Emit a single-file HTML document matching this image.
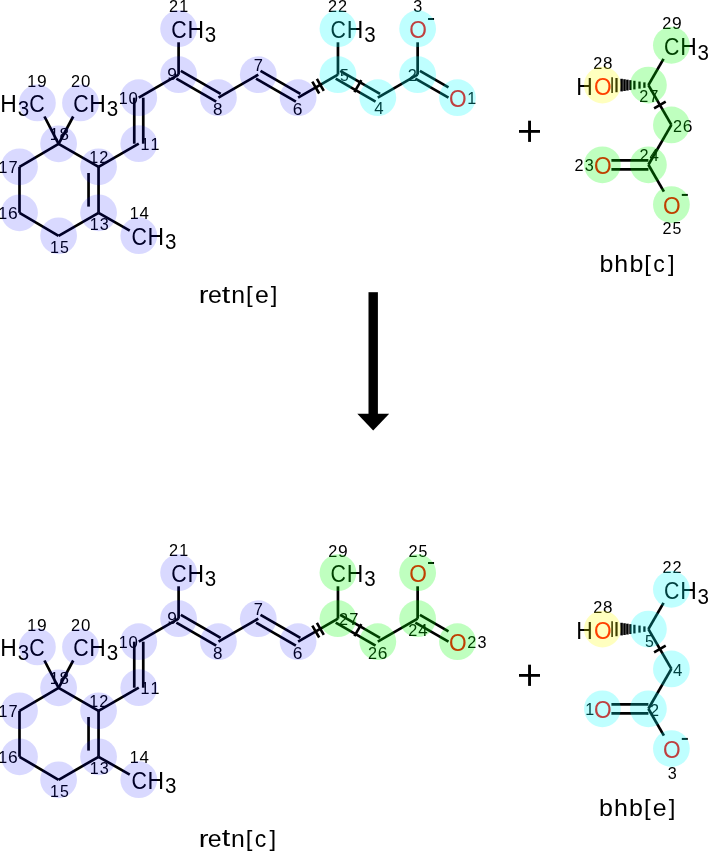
<!DOCTYPE html>
<html><head><meta charset="utf-8"><style>
html,body{margin:0;padding:0;background:#fff;width:709px;height:851px;overflow:hidden}
svg{display:block;will-change:transform}
text{font-family:"Liberation Sans",sans-serif}
</style></head><body>
<svg width="709" height="851" viewBox="0 0 709 851">
<rect width="709" height="851" fill="#fff"/>
<line x1="19.50" y1="166.80" x2="58.60" y2="143.80" stroke="#000" stroke-width="2.7"/>
<line x1="58.60" y1="143.80" x2="98.55" y2="166.80" stroke="#000" stroke-width="2.7"/>
<line x1="98.55" y1="212.80" x2="58.60" y2="235.80" stroke="#000" stroke-width="2.7"/>
<line x1="58.60" y1="235.80" x2="19.50" y2="212.80" stroke="#000" stroke-width="2.7"/>
<line x1="19.50" y1="212.80" x2="19.50" y2="166.80" stroke="#000" stroke-width="2.7"/>
<line x1="58.60" y1="143.80" x2="44.45" y2="116.50" stroke="#000" stroke-width="2.7"/>
<line x1="58.60" y1="143.80" x2="73.22" y2="116.50" stroke="#000" stroke-width="2.7"/>
<line x1="98.55" y1="212.80" x2="129.76" y2="230.57" stroke="#000" stroke-width="2.7"/>
<line x1="98.55" y1="166.80" x2="138.76" y2="143.70" stroke="#000" stroke-width="2.7"/>
<line x1="138.76" y1="97.70" x2="178.60" y2="74.70" stroke="#000" stroke-width="2.7"/>
<line x1="178.60" y1="74.70" x2="178.60" y2="42.30" stroke="#000" stroke-width="2.7"/>
<line x1="218.44" y1="97.70" x2="258.28" y2="74.70" stroke="#000" stroke-width="2.7"/>
<line x1="298.12" y1="97.70" x2="337.96" y2="74.70" stroke="#000" stroke-width="2.7"/>
<line x1="337.96" y1="74.70" x2="337.96" y2="42.30" stroke="#000" stroke-width="2.7"/>
<line x1="377.80" y1="97.70" x2="417.64" y2="74.70" stroke="#000" stroke-width="2.7"/>
<line x1="417.64" y1="74.70" x2="417.64" y2="42.30" stroke="#000" stroke-width="2.7"/>
<line x1="98.55" y1="166.80" x2="98.55" y2="212.80" stroke="#000" stroke-width="2.7"/>
<line x1="88.55" y1="173.00" x2="88.55" y2="206.60" stroke="#000" stroke-width="2.7"/>
<line x1="134.26" y1="143.70" x2="134.26" y2="97.70" stroke="#000" stroke-width="2.7"/>
<line x1="143.26" y1="143.70" x2="143.26" y2="97.70" stroke="#000" stroke-width="2.7"/>
<line x1="180.85" y1="70.80" x2="220.69" y2="93.80" stroke="#000" stroke-width="2.7"/>
<line x1="176.35" y1="78.60" x2="216.19" y2="101.60" stroke="#000" stroke-width="2.7"/>
<line x1="260.53" y1="70.80" x2="300.37" y2="93.80" stroke="#000" stroke-width="2.7"/>
<line x1="256.03" y1="78.60" x2="295.87" y2="101.60" stroke="#000" stroke-width="2.7"/>
<line x1="340.21" y1="70.80" x2="380.05" y2="93.80" stroke="#000" stroke-width="2.7"/>
<line x1="335.71" y1="78.60" x2="375.55" y2="101.60" stroke="#000" stroke-width="2.7"/>
<line x1="419.89" y1="70.80" x2="448.48" y2="87.31" stroke="#000" stroke-width="2.7"/>
<line x1="415.39" y1="78.60" x2="448.48" y2="97.70" stroke="#000" stroke-width="2.7"/>
<line x1="312.30" y1="81.55" x2="319.19" y2="93.50" stroke="#000" stroke-width="2.6"/>
<line x1="316.89" y1="78.90" x2="323.78" y2="90.85" stroke="#000" stroke-width="2.6"/>
<line x1="361.33" y1="80.22" x2="354.43" y2="92.18" stroke="#000" stroke-width="2.6"/>
<text transform="translate(73.16,111.89) scale(0.869,1)" font-size="24.57" fill="#000">C</text>
<text transform="translate(89.33,111.80) scale(0.939,1)" font-size="24.37" fill="#000">H</text>
<text transform="translate(106.71,116.18) scale(0.948,1)" font-size="21.69" fill="#000">3</text>
<text transform="translate(171.26,37.69) scale(0.869,1)" font-size="24.57" fill="#000">C</text>
<text transform="translate(187.43,37.60) scale(0.939,1)" font-size="24.37" fill="#000">H</text>
<text transform="translate(204.81,41.98) scale(0.948,1)" font-size="21.69" fill="#000">3</text>
<text transform="translate(330.62,37.69) scale(0.869,1)" font-size="24.57" fill="#000">C</text>
<text transform="translate(346.79,37.60) scale(0.939,1)" font-size="24.37" fill="#000">H</text>
<text transform="translate(364.17,41.98) scale(0.948,1)" font-size="21.69" fill="#000">3</text>
<text transform="translate(131.42,244.69) scale(0.869,1)" font-size="24.57" fill="#000">C</text>
<text transform="translate(147.59,244.60) scale(0.939,1)" font-size="24.37" fill="#000">H</text>
<text transform="translate(164.97,248.98) scale(0.948,1)" font-size="21.69" fill="#000">3</text>
<text transform="translate(29.16,111.89) scale(0.869,1)" font-size="24.57" fill="#000">C</text>
<text transform="translate(17.71,116.18) scale(0.948,1)" font-size="21.69" fill="#000">3</text>
<text transform="translate(0.33,111.80) scale(0.939,1)" font-size="24.37" fill="#000">H</text>
<text transform="translate(409.20,37.79) scale(0.925,1)" font-size="24.57" fill="#f00">O</text>
<rect x="428.04" y="18.00" width="6" height="2" fill="#000"/>
<text transform="translate(449.04,106.79) scale(0.925,1)" font-size="24.57" fill="#f00">O</text>
<text transform="translate(49.96,252.82) scale(0.950,1)" font-size="16.95" fill="#000">1</text>
<text transform="translate(60.03,252.88) scale(0.934,1)" font-size="17.04" fill="#000">5</text>
<text transform="translate(89.70,230.22) scale(0.950,1)" font-size="16.95" fill="#000">1</text>
<text transform="translate(99.77,230.28) scale(0.948,1)" font-size="17.09" fill="#000">3</text>
<text transform="translate(89.36,162.74) scale(0.950,1)" font-size="16.95" fill="#000">1</text>
<text transform="translate(99.19,162.74) scale(0.956,1)" font-size="17.01" fill="#000">2</text>
<text transform="translate(129.71,218.93) scale(0.950,1)" font-size="16.95" fill="#000">1</text>
<text transform="translate(139.57,218.93) scale(0.995,1)" font-size="16.95" fill="#000">4</text>
<text transform="translate(140.50,150.13) scale(0.950,1)" font-size="16.95" fill="#000">1</text>
<text transform="translate(150.50,150.13) scale(0.950,1)" font-size="16.95" fill="#000">1</text>
<text transform="translate(118.69,103.72) scale(0.950,1)" font-size="16.95" fill="#000">1</text>
<text transform="translate(128.56,103.78) scale(0.987,1)" font-size="17.09" fill="#000">0</text>
<text transform="translate(49.81,140.42) scale(0.950,1)" font-size="16.95" fill="#000">1</text>
<text transform="translate(59.62,140.48) scale(0.997,1)" font-size="17.09" fill="#000">8</text>
<text transform="translate(27.32,87.02) scale(0.950,1)" font-size="16.95" fill="#000">1</text>
<text transform="translate(36.98,87.08) scale(1.019,1)" font-size="17.09" fill="#000">9</text>
<text transform="translate(71.01,87.02) scale(0.956,1)" font-size="17.01" fill="#000">2</text>
<text transform="translate(81.05,87.08) scale(0.987,1)" font-size="17.09" fill="#000">0</text>
<text transform="translate(169.12,12.24) scale(0.956,1)" font-size="17.01" fill="#000">2</text>
<text transform="translate(179.29,12.24) scale(0.950,1)" font-size="16.95" fill="#000">1</text>
<text transform="translate(167.36,80.48) scale(1.019,1)" font-size="17.09" fill="#000">9</text>
<text transform="translate(213.06,114.68) scale(0.997,1)" font-size="17.09" fill="#000">8</text>
<text transform="translate(253.80,70.53) scale(0.973,1)" font-size="16.95" fill="#000">7</text>
<text transform="translate(292.79,114.88) scale(1.021,1)" font-size="17.09" fill="#000">6</text>
<text transform="translate(-1.38,172.73) scale(0.950,1)" font-size="16.95" fill="#000">1</text>
<text transform="translate(8.55,172.73) scale(0.973,1)" font-size="16.95" fill="#000">7</text>
<text transform="translate(-1.74,218.62) scale(0.950,1)" font-size="16.95" fill="#000">1</text>
<text transform="translate(7.96,218.68) scale(1.021,1)" font-size="17.09" fill="#000">6</text>
<text transform="translate(328.08,12.24) scale(0.956,1)" font-size="17.01" fill="#000">2</text>
<text transform="translate(338.08,12.24) scale(0.956,1)" font-size="17.01" fill="#000">2</text>
<text transform="translate(340.09,81.48) scale(0.934,1)" font-size="17.04" fill="#000">5</text>
<text transform="translate(374.16,114.13) scale(0.995,1)" font-size="16.95" fill="#000">4</text>
<text transform="translate(407.78,81.04) scale(0.956,1)" font-size="17.01" fill="#000">2</text>
<text transform="translate(413.14,11.88) scale(0.948,1)" font-size="17.09" fill="#000">3</text>
<text transform="translate(467.20,103.53) scale(0.950,1)" font-size="16.95" fill="#000">1</text>
<line x1="648.40" y1="85.10" x2="663.55" y2="58.86" stroke="#000" stroke-width="2.7"/>
<line x1="648.40" y1="85.10" x2="671.40" y2="124.94" stroke="#000" stroke-width="2.7"/>
<line x1="671.40" y1="124.94" x2="648.40" y2="164.78" stroke="#000" stroke-width="2.7"/>
<line x1="648.40" y1="164.78" x2="663.89" y2="191.62" stroke="#000" stroke-width="2.7"/>
<line x1="648.40" y1="169.28" x2="611.40" y2="169.28" stroke="#000" stroke-width="2.7"/>
<line x1="648.40" y1="160.28" x2="611.40" y2="160.28" stroke="#000" stroke-width="2.7"/>
<line x1="665.70" y1="101.67" x2="654.10" y2="108.37" stroke="#000" stroke-width="2.6"/>
<line x1="644.40" y1="82.35" x2="644.40" y2="87.85" stroke="#000" stroke-width="2.3"/>
<line x1="639.50" y1="81.58" x2="639.50" y2="88.62" stroke="#000" stroke-width="2.3"/>
<line x1="634.40" y1="80.79" x2="634.40" y2="89.41" stroke="#000" stroke-width="2.3"/>
<line x1="630.40" y1="80.16" x2="630.40" y2="90.04" stroke="#000" stroke-width="2.3"/>
<line x1="627.40" y1="79.69" x2="627.40" y2="90.51" stroke="#000" stroke-width="2.5"/>
<line x1="624.50" y1="79.24" x2="624.50" y2="90.96" stroke="#000" stroke-width="2.5"/>
<line x1="621.60" y1="78.79" x2="621.60" y2="91.41" stroke="#000" stroke-width="2.5"/>
<line x1="616.50" y1="77.99" x2="616.50" y2="92.21" stroke="#000" stroke-width="2.2"/>
<line x1="612.10" y1="77.30" x2="612.10" y2="92.90" stroke="#000" stroke-width="1.6"/>
<text transform="translate(664.06,55.25) scale(0.869,1)" font-size="24.57" fill="#000">C</text>
<text transform="translate(680.23,55.16) scale(0.939,1)" font-size="24.37" fill="#000">H</text>
<text transform="translate(697.61,59.54) scale(0.948,1)" font-size="21.69" fill="#000">3</text>
<text transform="translate(593.96,95.09) scale(0.925,1)" font-size="24.57" fill="#f00">O</text>
<text transform="translate(576.13,95.00) scale(0.939,1)" font-size="24.37" fill="#000">H</text>
<text transform="translate(593.96,174.27) scale(0.925,1)" font-size="24.57" fill="#f00">O</text>
<text transform="translate(662.96,214.11) scale(0.925,1)" font-size="24.57" fill="#f00">O</text>
<rect x="681.80" y="193.92" width="6" height="2" fill="#000"/>
<text transform="translate(593.13,69.22) scale(0.956,1)" font-size="17.01" fill="#000">2</text>
<text transform="translate(603.12,69.28) scale(0.997,1)" font-size="17.09" fill="#000">8</text>
<text transform="translate(662.24,29.02) scale(0.956,1)" font-size="17.01" fill="#000">2</text>
<text transform="translate(672.08,29.08) scale(1.019,1)" font-size="17.09" fill="#000">9</text>
<text transform="translate(639.26,102.24) scale(0.956,1)" font-size="17.01" fill="#000">2</text>
<text transform="translate(649.37,102.24) scale(0.973,1)" font-size="16.95" fill="#000">7</text>
<text transform="translate(672.88,131.82) scale(0.956,1)" font-size="17.01" fill="#000">2</text>
<text transform="translate(682.76,131.88) scale(1.021,1)" font-size="17.09" fill="#000">6</text>
<text transform="translate(639.53,160.84) scale(0.956,1)" font-size="17.01" fill="#000">2</text>
<text transform="translate(649.57,160.84) scale(0.995,1)" font-size="16.95" fill="#000">4</text>
<text transform="translate(574.46,171.02) scale(0.956,1)" font-size="17.01" fill="#000">2</text>
<text transform="translate(584.70,171.08) scale(0.948,1)" font-size="17.09" fill="#000">3</text>
<text transform="translate(662.38,234.22) scale(0.956,1)" font-size="17.01" fill="#000">2</text>
<text transform="translate(672.62,234.28) scale(0.934,1)" font-size="17.04" fill="#000">5</text>
<line x1="19.50" y1="710.80" x2="58.60" y2="687.80" stroke="#000" stroke-width="2.7"/>
<line x1="58.60" y1="687.80" x2="98.55" y2="710.80" stroke="#000" stroke-width="2.7"/>
<line x1="98.55" y1="756.80" x2="58.60" y2="779.80" stroke="#000" stroke-width="2.7"/>
<line x1="58.60" y1="779.80" x2="19.50" y2="756.80" stroke="#000" stroke-width="2.7"/>
<line x1="19.50" y1="756.80" x2="19.50" y2="710.80" stroke="#000" stroke-width="2.7"/>
<line x1="58.60" y1="687.80" x2="44.45" y2="660.50" stroke="#000" stroke-width="2.7"/>
<line x1="58.60" y1="687.80" x2="73.22" y2="660.50" stroke="#000" stroke-width="2.7"/>
<line x1="98.55" y1="756.80" x2="129.76" y2="774.57" stroke="#000" stroke-width="2.7"/>
<line x1="98.55" y1="710.80" x2="138.76" y2="687.70" stroke="#000" stroke-width="2.7"/>
<line x1="138.76" y1="641.70" x2="178.60" y2="618.70" stroke="#000" stroke-width="2.7"/>
<line x1="178.60" y1="618.70" x2="178.60" y2="586.30" stroke="#000" stroke-width="2.7"/>
<line x1="218.44" y1="641.70" x2="258.28" y2="618.70" stroke="#000" stroke-width="2.7"/>
<line x1="298.12" y1="641.70" x2="337.96" y2="618.70" stroke="#000" stroke-width="2.7"/>
<line x1="337.96" y1="618.70" x2="337.96" y2="586.30" stroke="#000" stroke-width="2.7"/>
<line x1="377.80" y1="641.70" x2="417.64" y2="618.70" stroke="#000" stroke-width="2.7"/>
<line x1="417.64" y1="618.70" x2="417.64" y2="586.30" stroke="#000" stroke-width="2.7"/>
<line x1="98.55" y1="710.80" x2="98.55" y2="756.80" stroke="#000" stroke-width="2.7"/>
<line x1="88.55" y1="717.00" x2="88.55" y2="750.60" stroke="#000" stroke-width="2.7"/>
<line x1="134.26" y1="687.70" x2="134.26" y2="641.70" stroke="#000" stroke-width="2.7"/>
<line x1="143.26" y1="687.70" x2="143.26" y2="641.70" stroke="#000" stroke-width="2.7"/>
<line x1="180.85" y1="614.80" x2="220.69" y2="637.80" stroke="#000" stroke-width="2.7"/>
<line x1="176.35" y1="622.60" x2="216.19" y2="645.60" stroke="#000" stroke-width="2.7"/>
<line x1="260.53" y1="614.80" x2="300.37" y2="637.80" stroke="#000" stroke-width="2.7"/>
<line x1="256.03" y1="622.60" x2="295.87" y2="645.60" stroke="#000" stroke-width="2.7"/>
<line x1="340.21" y1="614.80" x2="380.05" y2="637.80" stroke="#000" stroke-width="2.7"/>
<line x1="335.71" y1="622.60" x2="375.55" y2="645.60" stroke="#000" stroke-width="2.7"/>
<line x1="419.89" y1="614.80" x2="448.48" y2="631.31" stroke="#000" stroke-width="2.7"/>
<line x1="415.39" y1="622.60" x2="448.48" y2="641.70" stroke="#000" stroke-width="2.7"/>
<line x1="312.30" y1="625.55" x2="319.19" y2="637.50" stroke="#000" stroke-width="2.6"/>
<line x1="316.89" y1="622.90" x2="323.78" y2="634.85" stroke="#000" stroke-width="2.6"/>
<line x1="361.33" y1="624.22" x2="354.43" y2="636.18" stroke="#000" stroke-width="2.6"/>
<text transform="translate(73.16,655.89) scale(0.869,1)" font-size="24.57" fill="#000">C</text>
<text transform="translate(89.33,655.80) scale(0.939,1)" font-size="24.37" fill="#000">H</text>
<text transform="translate(106.71,660.18) scale(0.948,1)" font-size="21.69" fill="#000">3</text>
<text transform="translate(171.26,581.69) scale(0.869,1)" font-size="24.57" fill="#000">C</text>
<text transform="translate(187.43,581.60) scale(0.939,1)" font-size="24.37" fill="#000">H</text>
<text transform="translate(204.81,585.98) scale(0.948,1)" font-size="21.69" fill="#000">3</text>
<text transform="translate(330.62,581.69) scale(0.869,1)" font-size="24.57" fill="#000">C</text>
<text transform="translate(346.79,581.60) scale(0.939,1)" font-size="24.37" fill="#000">H</text>
<text transform="translate(364.17,585.98) scale(0.948,1)" font-size="21.69" fill="#000">3</text>
<text transform="translate(131.42,788.69) scale(0.869,1)" font-size="24.57" fill="#000">C</text>
<text transform="translate(147.59,788.60) scale(0.939,1)" font-size="24.37" fill="#000">H</text>
<text transform="translate(164.97,792.98) scale(0.948,1)" font-size="21.69" fill="#000">3</text>
<text transform="translate(29.16,655.89) scale(0.869,1)" font-size="24.57" fill="#000">C</text>
<text transform="translate(17.71,660.18) scale(0.948,1)" font-size="21.69" fill="#000">3</text>
<text transform="translate(0.33,655.80) scale(0.939,1)" font-size="24.37" fill="#000">H</text>
<text transform="translate(409.20,581.79) scale(0.925,1)" font-size="24.57" fill="#f00">O</text>
<rect x="428.04" y="562.00" width="6" height="2" fill="#000"/>
<text transform="translate(449.04,650.79) scale(0.925,1)" font-size="24.57" fill="#f00">O</text>
<text transform="translate(49.96,796.82) scale(0.950,1)" font-size="16.95" fill="#000">1</text>
<text transform="translate(60.03,796.88) scale(0.934,1)" font-size="17.04" fill="#000">5</text>
<text transform="translate(89.70,774.22) scale(0.950,1)" font-size="16.95" fill="#000">1</text>
<text transform="translate(99.77,774.28) scale(0.948,1)" font-size="17.09" fill="#000">3</text>
<text transform="translate(89.36,706.74) scale(0.950,1)" font-size="16.95" fill="#000">1</text>
<text transform="translate(99.19,706.74) scale(0.956,1)" font-size="17.01" fill="#000">2</text>
<text transform="translate(129.71,762.93) scale(0.950,1)" font-size="16.95" fill="#000">1</text>
<text transform="translate(139.57,762.93) scale(0.995,1)" font-size="16.95" fill="#000">4</text>
<text transform="translate(140.50,694.13) scale(0.950,1)" font-size="16.95" fill="#000">1</text>
<text transform="translate(150.50,694.13) scale(0.950,1)" font-size="16.95" fill="#000">1</text>
<text transform="translate(118.69,647.72) scale(0.950,1)" font-size="16.95" fill="#000">1</text>
<text transform="translate(128.56,647.78) scale(0.987,1)" font-size="17.09" fill="#000">0</text>
<text transform="translate(49.81,684.42) scale(0.950,1)" font-size="16.95" fill="#000">1</text>
<text transform="translate(59.62,684.48) scale(0.997,1)" font-size="17.09" fill="#000">8</text>
<text transform="translate(27.32,631.02) scale(0.950,1)" font-size="16.95" fill="#000">1</text>
<text transform="translate(36.98,631.08) scale(1.019,1)" font-size="17.09" fill="#000">9</text>
<text transform="translate(71.01,631.02) scale(0.956,1)" font-size="17.01" fill="#000">2</text>
<text transform="translate(81.05,631.08) scale(0.987,1)" font-size="17.09" fill="#000">0</text>
<text transform="translate(169.12,556.24) scale(0.956,1)" font-size="17.01" fill="#000">2</text>
<text transform="translate(179.29,556.24) scale(0.950,1)" font-size="16.95" fill="#000">1</text>
<text transform="translate(167.36,624.48) scale(1.019,1)" font-size="17.09" fill="#000">9</text>
<text transform="translate(213.06,658.68) scale(0.997,1)" font-size="17.09" fill="#000">8</text>
<text transform="translate(253.80,614.53) scale(0.973,1)" font-size="16.95" fill="#000">7</text>
<text transform="translate(292.79,658.88) scale(1.021,1)" font-size="17.09" fill="#000">6</text>
<text transform="translate(-1.38,716.73) scale(0.950,1)" font-size="16.95" fill="#000">1</text>
<text transform="translate(8.55,716.73) scale(0.973,1)" font-size="16.95" fill="#000">7</text>
<text transform="translate(-1.74,762.62) scale(0.950,1)" font-size="16.95" fill="#000">1</text>
<text transform="translate(7.96,762.68) scale(1.021,1)" font-size="17.09" fill="#000">6</text>
<text transform="translate(328.14,556.72) scale(0.956,1)" font-size="17.01" fill="#000">2</text>
<text transform="translate(337.98,556.78) scale(1.019,1)" font-size="17.09" fill="#000">9</text>
<text transform="translate(339.06,624.64) scale(0.956,1)" font-size="17.01" fill="#000">2</text>
<text transform="translate(349.17,624.64) scale(0.973,1)" font-size="16.95" fill="#000">7</text>
<text transform="translate(367.88,658.72) scale(0.956,1)" font-size="17.01" fill="#000">2</text>
<text transform="translate(377.76,658.78) scale(1.021,1)" font-size="17.09" fill="#000">6</text>
<text transform="translate(408.38,557.02) scale(0.956,1)" font-size="17.01" fill="#000">2</text>
<text transform="translate(418.62,557.08) scale(0.934,1)" font-size="17.04" fill="#000">5</text>
<text transform="translate(408.13,636.34) scale(0.956,1)" font-size="17.01" fill="#000">2</text>
<text transform="translate(418.17,636.34) scale(0.995,1)" font-size="16.95" fill="#000">4</text>
<text transform="translate(467.22,648.22) scale(0.956,1)" font-size="17.01" fill="#000">2</text>
<text transform="translate(477.47,648.28) scale(0.948,1)" font-size="17.09" fill="#000">3</text>
<line x1="648.40" y1="629.10" x2="663.55" y2="602.86" stroke="#000" stroke-width="2.7"/>
<line x1="648.40" y1="629.10" x2="671.40" y2="668.94" stroke="#000" stroke-width="2.7"/>
<line x1="671.40" y1="668.94" x2="648.40" y2="708.78" stroke="#000" stroke-width="2.7"/>
<line x1="648.40" y1="708.78" x2="663.89" y2="735.62" stroke="#000" stroke-width="2.7"/>
<line x1="648.40" y1="713.28" x2="611.40" y2="713.28" stroke="#000" stroke-width="2.7"/>
<line x1="648.40" y1="704.28" x2="611.40" y2="704.28" stroke="#000" stroke-width="2.7"/>
<line x1="665.70" y1="645.67" x2="654.10" y2="652.37" stroke="#000" stroke-width="2.6"/>
<line x1="644.40" y1="626.35" x2="644.40" y2="631.85" stroke="#000" stroke-width="2.3"/>
<line x1="639.50" y1="625.58" x2="639.50" y2="632.62" stroke="#000" stroke-width="2.3"/>
<line x1="634.40" y1="624.79" x2="634.40" y2="633.41" stroke="#000" stroke-width="2.3"/>
<line x1="630.40" y1="624.16" x2="630.40" y2="634.04" stroke="#000" stroke-width="2.3"/>
<line x1="627.40" y1="623.69" x2="627.40" y2="634.51" stroke="#000" stroke-width="2.5"/>
<line x1="624.50" y1="623.24" x2="624.50" y2="634.96" stroke="#000" stroke-width="2.5"/>
<line x1="621.60" y1="622.79" x2="621.60" y2="635.41" stroke="#000" stroke-width="2.5"/>
<line x1="616.50" y1="621.99" x2="616.50" y2="636.21" stroke="#000" stroke-width="2.2"/>
<line x1="612.10" y1="621.30" x2="612.10" y2="636.90" stroke="#000" stroke-width="1.6"/>
<text transform="translate(664.06,599.25) scale(0.869,1)" font-size="24.57" fill="#000">C</text>
<text transform="translate(680.23,599.16) scale(0.939,1)" font-size="24.37" fill="#000">H</text>
<text transform="translate(697.61,603.54) scale(0.948,1)" font-size="21.69" fill="#000">3</text>
<text transform="translate(593.96,639.09) scale(0.925,1)" font-size="24.57" fill="#f00">O</text>
<text transform="translate(576.13,639.00) scale(0.939,1)" font-size="24.37" fill="#000">H</text>
<text transform="translate(593.96,718.27) scale(0.925,1)" font-size="24.57" fill="#f00">O</text>
<text transform="translate(662.96,758.11) scale(0.925,1)" font-size="24.57" fill="#f00">O</text>
<rect x="681.80" y="737.92" width="6" height="2" fill="#000"/>
<text transform="translate(593.13,613.22) scale(0.956,1)" font-size="17.01" fill="#000">2</text>
<text transform="translate(603.12,613.28) scale(0.997,1)" font-size="17.09" fill="#000">8</text>
<text transform="translate(662.48,573.14) scale(0.956,1)" font-size="17.01" fill="#000">2</text>
<text transform="translate(672.48,573.14) scale(0.956,1)" font-size="17.01" fill="#000">2</text>
<text transform="translate(644.89,646.68) scale(0.934,1)" font-size="17.04" fill="#000">5</text>
<text transform="translate(673.11,676.13) scale(0.995,1)" font-size="16.95" fill="#000">4</text>
<text transform="translate(649.98,715.74) scale(0.956,1)" font-size="17.01" fill="#000">2</text>
<text transform="translate(585.23,715.43) scale(0.950,1)" font-size="16.95" fill="#000">1</text>
<text transform="translate(667.84,778.58) scale(0.948,1)" font-size="17.09" fill="#000">3</text>
<rect x="519" y="130" width="21" height="2.8" fill="#000"/>
<rect x="528.1" y="120.7" width="2.9" height="21.2" fill="#000"/>
<rect x="519" y="674" width="21" height="2.8" fill="#000"/>
<rect x="528.1" y="664.7" width="2.9" height="21.2" fill="#000"/>
<rect x="368.5" y="292.2" width="9.4" height="122" fill="#000"/>
<path d="M357.3,413.8 L389.2,413.8 L373.2,430.4 Z" fill="#000"/>
<text transform="translate(198.84,302.80) scale(1.231,1)" font-size="23.94" fill="#000">r</text>
<text transform="translate(207.92,302.89) scale(1.031,1)" font-size="24.11" fill="#000">e</text>
<text transform="translate(221.86,302.61) scale(1.245,1)" font-size="24.68" fill="#000">t</text>
<text transform="translate(231.15,302.80) scale(1.036,1)" font-size="23.94" fill="#000">n</text>
<text transform="translate(245.98,302.07) scale(1.089,1)" font-size="22.00" fill="#000">[</text>
<text transform="translate(254.92,302.89) scale(1.031,1)" font-size="24.11" fill="#000">e</text>
<text transform="translate(270.76,302.07) scale(1.089,1)" font-size="22.00" fill="#000">]</text>
<text transform="translate(599.39,271.79) scale(1.032,1)" font-size="24.24" fill="#000">b</text>
<text transform="translate(614.27,271.70) scale(1.035,1)" font-size="24.12" fill="#000">h</text>
<text transform="translate(629.39,271.79) scale(1.032,1)" font-size="24.24" fill="#000">b</text>
<text transform="translate(644.18,270.97) scale(1.089,1)" font-size="22.00" fill="#000">[</text>
<text transform="translate(653.20,271.79) scale(0.957,1)" font-size="24.11" fill="#000">c</text>
<text transform="translate(667.96,270.97) scale(1.089,1)" font-size="22.00" fill="#000">]</text>
<text transform="translate(198.64,846.50) scale(1.231,1)" font-size="23.94" fill="#000">r</text>
<text transform="translate(207.72,846.59) scale(1.031,1)" font-size="24.11" fill="#000">e</text>
<text transform="translate(221.66,846.31) scale(1.245,1)" font-size="24.68" fill="#000">t</text>
<text transform="translate(230.95,846.50) scale(1.036,1)" font-size="23.94" fill="#000">n</text>
<text transform="translate(245.78,845.77) scale(1.089,1)" font-size="22.00" fill="#000">[</text>
<text transform="translate(254.80,846.59) scale(0.957,1)" font-size="24.11" fill="#000">c</text>
<text transform="translate(269.56,845.77) scale(1.089,1)" font-size="22.00" fill="#000">]</text>
<text transform="translate(599.09,815.99) scale(1.032,1)" font-size="24.24" fill="#000">b</text>
<text transform="translate(613.97,815.90) scale(1.035,1)" font-size="24.12" fill="#000">h</text>
<text transform="translate(629.09,815.99) scale(1.032,1)" font-size="24.24" fill="#000">b</text>
<text transform="translate(643.88,815.17) scale(1.089,1)" font-size="22.00" fill="#000">[</text>
<text transform="translate(652.82,815.99) scale(1.031,1)" font-size="24.11" fill="#000">e</text>
<text transform="translate(668.66,815.17) scale(1.089,1)" font-size="22.00" fill="#000">]</text>
<circle cx="19.50" cy="166.80" r="18.4" fill="#0000ff" fill-opacity="0.15"/>
<circle cx="19.50" cy="212.80" r="18.4" fill="#0000ff" fill-opacity="0.15"/>
<circle cx="58.60" cy="235.80" r="18.4" fill="#0000ff" fill-opacity="0.15"/>
<circle cx="98.55" cy="212.80" r="18.4" fill="#0000ff" fill-opacity="0.15"/>
<circle cx="98.55" cy="166.80" r="18.4" fill="#0000ff" fill-opacity="0.15"/>
<circle cx="58.60" cy="143.80" r="18.4" fill="#0000ff" fill-opacity="0.15"/>
<circle cx="37.40" cy="102.90" r="18.4" fill="#0000ff" fill-opacity="0.15"/>
<circle cx="80.50" cy="102.90" r="18.4" fill="#0000ff" fill-opacity="0.15"/>
<circle cx="138.76" cy="235.70" r="18.4" fill="#0000ff" fill-opacity="0.15"/>
<circle cx="138.76" cy="143.70" r="18.4" fill="#0000ff" fill-opacity="0.15"/>
<circle cx="138.76" cy="97.70" r="18.4" fill="#0000ff" fill-opacity="0.15"/>
<circle cx="178.60" cy="74.70" r="18.4" fill="#0000ff" fill-opacity="0.15"/>
<circle cx="178.60" cy="28.70" r="18.4" fill="#0000ff" fill-opacity="0.15"/>
<circle cx="218.44" cy="97.70" r="18.4" fill="#0000ff" fill-opacity="0.15"/>
<circle cx="258.28" cy="74.70" r="18.4" fill="#0000ff" fill-opacity="0.15"/>
<circle cx="298.12" cy="97.70" r="18.4" fill="#0000ff" fill-opacity="0.15"/>
<circle cx="337.96" cy="74.70" r="18.4" fill="#00ffff" fill-opacity="0.25"/>
<circle cx="337.96" cy="28.70" r="18.4" fill="#00ffff" fill-opacity="0.25"/>
<circle cx="377.80" cy="97.70" r="18.4" fill="#00ffff" fill-opacity="0.25"/>
<circle cx="417.64" cy="74.70" r="18.4" fill="#00ffff" fill-opacity="0.25"/>
<circle cx="417.64" cy="28.70" r="18.4" fill="#00ffff" fill-opacity="0.25"/>
<circle cx="457.48" cy="97.70" r="18.4" fill="#00ffff" fill-opacity="0.25"/>
<circle cx="648.40" cy="85.10" r="18.4" fill="#00ff00" fill-opacity="0.25"/>
<circle cx="602.40" cy="85.10" r="18.4" fill="#ffff00" fill-opacity="0.25"/>
<circle cx="671.40" cy="45.26" r="18.4" fill="#00ff00" fill-opacity="0.25"/>
<circle cx="671.40" cy="124.94" r="18.4" fill="#00ff00" fill-opacity="0.25"/>
<circle cx="648.40" cy="164.78" r="18.4" fill="#00ff00" fill-opacity="0.25"/>
<circle cx="602.40" cy="164.78" r="18.4" fill="#00ff00" fill-opacity="0.25"/>
<circle cx="671.40" cy="204.62" r="18.4" fill="#00ff00" fill-opacity="0.25"/>
<circle cx="19.50" cy="710.80" r="18.4" fill="#0000ff" fill-opacity="0.15"/>
<circle cx="19.50" cy="756.80" r="18.4" fill="#0000ff" fill-opacity="0.15"/>
<circle cx="58.60" cy="779.80" r="18.4" fill="#0000ff" fill-opacity="0.15"/>
<circle cx="98.55" cy="756.80" r="18.4" fill="#0000ff" fill-opacity="0.15"/>
<circle cx="98.55" cy="710.80" r="18.4" fill="#0000ff" fill-opacity="0.15"/>
<circle cx="58.60" cy="687.80" r="18.4" fill="#0000ff" fill-opacity="0.15"/>
<circle cx="37.40" cy="646.90" r="18.4" fill="#0000ff" fill-opacity="0.15"/>
<circle cx="80.50" cy="646.90" r="18.4" fill="#0000ff" fill-opacity="0.15"/>
<circle cx="138.76" cy="779.70" r="18.4" fill="#0000ff" fill-opacity="0.15"/>
<circle cx="138.76" cy="687.70" r="18.4" fill="#0000ff" fill-opacity="0.15"/>
<circle cx="138.76" cy="641.70" r="18.4" fill="#0000ff" fill-opacity="0.15"/>
<circle cx="178.60" cy="618.70" r="18.4" fill="#0000ff" fill-opacity="0.15"/>
<circle cx="178.60" cy="572.70" r="18.4" fill="#0000ff" fill-opacity="0.15"/>
<circle cx="218.44" cy="641.70" r="18.4" fill="#0000ff" fill-opacity="0.15"/>
<circle cx="258.28" cy="618.70" r="18.4" fill="#0000ff" fill-opacity="0.15"/>
<circle cx="298.12" cy="641.70" r="18.4" fill="#0000ff" fill-opacity="0.15"/>
<circle cx="337.96" cy="618.70" r="18.4" fill="#00ff00" fill-opacity="0.25"/>
<circle cx="337.96" cy="572.70" r="18.4" fill="#00ff00" fill-opacity="0.25"/>
<circle cx="377.80" cy="641.70" r="18.4" fill="#00ff00" fill-opacity="0.25"/>
<circle cx="417.64" cy="618.70" r="18.4" fill="#00ff00" fill-opacity="0.25"/>
<circle cx="417.64" cy="572.70" r="18.4" fill="#00ff00" fill-opacity="0.25"/>
<circle cx="457.48" cy="641.70" r="18.4" fill="#00ff00" fill-opacity="0.25"/>
<circle cx="648.40" cy="629.10" r="18.4" fill="#00ffff" fill-opacity="0.25"/>
<circle cx="602.40" cy="629.10" r="18.4" fill="#ffff00" fill-opacity="0.25"/>
<circle cx="671.40" cy="589.26" r="18.4" fill="#00ffff" fill-opacity="0.25"/>
<circle cx="671.40" cy="668.94" r="18.4" fill="#00ffff" fill-opacity="0.25"/>
<circle cx="648.40" cy="708.78" r="18.4" fill="#00ffff" fill-opacity="0.25"/>
<circle cx="602.40" cy="708.78" r="18.4" fill="#00ffff" fill-opacity="0.25"/>
<circle cx="671.40" cy="748.62" r="18.4" fill="#00ffff" fill-opacity="0.25"/>
</svg>
</body></html>
